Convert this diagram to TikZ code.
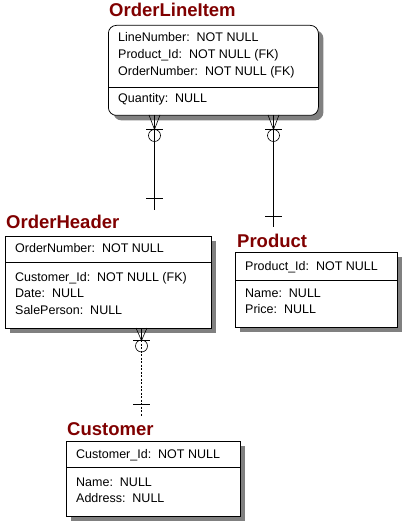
\documentclass[tikz,border=0pt]{standalone}
\usepackage{fontspec}
\setmainfont{Liberation Sans}
\usetikzlibrary{shadows}

\definecolor{titlered}{RGB}{128,0,0}
\definecolor{shadowgray}{RGB}{128,128,128}

\tikzset{
  entity/.style={draw, fill=white, line width=0.75pt, anchor=north west,
    inner sep=0pt,
    drop shadow={shadow xshift=5pt, shadow yshift=-5pt, fill=shadowgray, opacity=1}},
  etitle/.style={anchor=base west, inner sep=0pt, text=titlered,
    font=\fontsize{18.5}{20}\selectfont\bfseries},
  attr/.style={anchor=base west, inner sep=0pt, font=\fontsize{12.5}{14}\selectfont},
  rel/.style={line width=0.6pt},
}

\begin{document}
\begin{tikzpicture}[x=1pt,y=-1pt]
    \useasboundingbox (0,0) rectangle (401,521);

    % OrderLineItem
    \node[etitle] (olit) at (109,17) {OrderLineItem};
    \node[entity, rounded corners=8pt, minimum width=210pt, minimum height=90pt] (oli) at (108,25) {};
    \draw[line width=0.75pt] (108,87) -- (318,87);
    \node[attr] (oli1) at (118,42) {LineNumber:\ \ NOT NULL};
    \node[attr] (oli2) at (118,59) {Product\_Id:\ \ NOT NULL (FK)};
    \node[attr] (oli3) at (118,76) {OrderNumber:\ \ NOT NULL (FK)};
    \node[attr] (oli4) at (118,103) {Quantity:\ \ NULL};

    % OrderHeader
    \node[etitle] (oht) at (6,228) {OrderHeader};
    \node[entity, minimum width=206pt, minimum height=92pt] (oh) at (5,236) {};
    \draw[line width=0.75pt] (5,262) -- (211,262);
    \node[attr] (oh1) at (15,252) {OrderNumber:\ \ NOT NULL};
    \node[attr] (oh2) at (15,281) {Customer\_Id:\ \ NOT NULL (FK)};
    \node[attr] (oh3) at (15,297) {Date:\ \ NULL};
    \node[attr] (oh4) at (15,314) {SalePerson:\ \ NULL};

    % Product
    \node[etitle] (prt) at (237,247) {Product};
    \node[entity, minimum width=162pt, minimum height=75pt] (pr) at (235,252) {};
    \draw[line width=0.75pt] (235,280) -- (397,280);
    \node[attr] (pr1) at (245,270) {Product\_Id:\ \ NOT NULL};
    \node[attr] (pr2) at (245,297) {Name:\ \ NULL};
    \node[attr] (pr3) at (245,313) {Price:\ \ NULL};

    % Customer
    \node[etitle] (cut) at (67,435) {Customer};
    \node[entity, minimum width=174pt, minimum height=75pt] (cu) at (66,441) {};
    \draw[line width=0.75pt] (66,467) -- (240,467);
    \node[attr] (cu1) at (76,458) {Customer\_Id:\ \ NOT NULL};
    \node[attr] (cu2) at (76,486) {Name:\ \ NULL};
    \node[attr] (cu3) at (76,502) {Address:\ \ NULL};

    % OrderLineItem -- OrderHeader
    \coordinate (r1a) at (154.5,115);
    \coordinate (r1b) at (154.5,210);
    \draw[rel] (r1a) -- (r1b);
    \draw[rel] (149,115) -- (154.5,129.5) -- (160,115);
    \draw[rel] (146,129.5) -- (163,129.5);
    \draw[rel] (154.5,135.5) circle (6pt);
    \draw[rel] (146,198) -- (163,198);

    % OrderLineItem -- Product
    \coordinate (r2a) at (273.5,115);
    \coordinate (r2b) at (273.5,227);
    \draw[rel] (r2a) -- (r2b);
    \draw[rel] (268,115) -- (273.5,129.5) -- (279,115);
    \draw[rel] (265,129.5) -- (282,129.5);
    \draw[rel] (273.5,135.5) circle (6pt);
    \draw[rel] (265,216) -- (282,216);

    % OrderHeader -- Customer
    \coordinate (r3a) at (141.5,328);
    \coordinate (r3b) at (141.5,417);
    \draw[rel] (r3a) -- (141.5,340);
    \draw[rel, dash pattern=on 2pt off 1.5pt] (141.5,340) -- (r3b);
    \draw[rel] (136,328) -- (141.5,340.5) -- (147,328);
    \draw[rel] (133,340.5) -- (150,340.5);
    \draw[rel] (141.5,346) circle (6pt);
    \draw[rel] (133,404) -- (150,404);
\end{tikzpicture}
\end{document}
